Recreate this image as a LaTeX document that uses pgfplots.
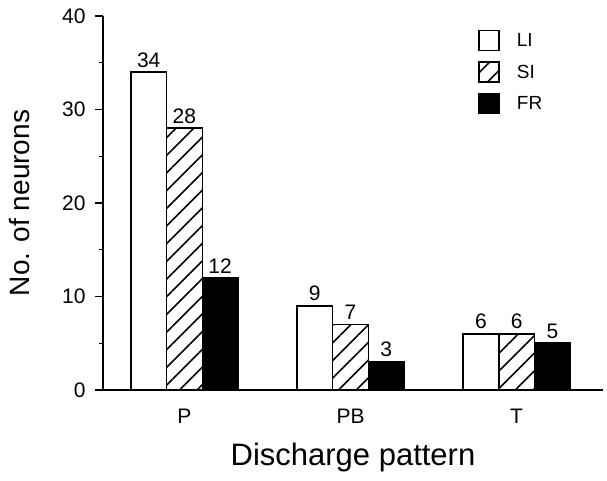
\documentclass[border=0pt]{standalone}
\usepackage{pgfplots}
\pgfplotsset{compat=1.18}
\usepackage{fontspec}
\setmainfont{Liberation Sans}
\usetikzlibrary{patterns.meta}
\begin{document}
\begin{tikzpicture}
\begin{axis}[
  scale only axis,
  width=500pt, height=374pt,
  xmin=-0.49, xmax=2.52,
  ymin=0, ymax=40,
  axis lines*=left,
  axis line style={line width=1.6pt},
  ybar=0pt,
  bar width=0.215,
  xtick={0,1,2},
  xticklabels={P,PB,T},
  xtick style={draw=none},
  ytick={0,10,20,30,40},
  minor ytick={5,15,25,35},
  tick align=outside,
  major tick length=8pt,
  minor tick length=4pt,
  every tick/.style={line width=1.4pt, black},
  /pgf/number format/assume math mode=true,
  tick label style={font=\fontsize{21}{24}\selectfont},
  xticklabel style={anchor=base, yshift=-26pt},
  yticklabel style={xshift=-6pt},
  ylabel={No. of neurons},
  xlabel={Discharge pattern},
  ylabel style={font=\fontsize{28}{32}\selectfont, at={(axis description cs:-0.166,0.5)}, anchor=center},
  xlabel style={font=\fontsize{31}{34}\selectfont, at={(axis description cs:0.5,0)}, anchor=base, yshift=-75pt},
  nodes near coords,
  every node near coord/.append style={font=\fontsize{21}{23}\selectfont, black, inner sep=4pt},
  legend style={draw=none, fill=none, at={(0.75,0.963)}, anchor=north west, inner sep=0pt,
    font=\fontsize{19}{21}\selectfont, row sep=10pt},
  legend cell align=left,
  legend image code/.code={\draw[#1, line width=1.4pt] (0pt,-10pt) rectangle (20pt,10pt);\path[draw=none,fill=none,pattern=none] (0pt,0pt) -- (36pt,0pt);},
]
\addplot[draw=black, line width=1.5pt, fill=white] coordinates {(0,34) (1,9) (2,6)};
\addplot[draw=black, line width=1.5pt, pattern={Lines[angle=45,distance=12.5pt,line width=1.6pt]}] coordinates {(0,28) (1,7) (2,6)};
\addplot[draw=black, line width=1.5pt, fill=black] coordinates {(0,12) (1,3) (2,5)};
\legend{LI,SI,FR}
\coordinate (O) at (rel axis cs:0,0);
\end{axis}
\pgfresetboundingbox
\path ([xshift=-103pt,yshift=-91pt]O) rectangle ([xshift=504pt,yshift=390pt]O);
\end{tikzpicture}
\end{document}
